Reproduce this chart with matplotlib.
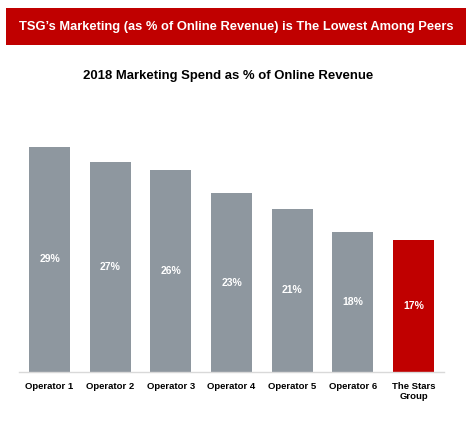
import matplotlib
matplotlib.use("Agg")
import matplotlib.pyplot as plt
from matplotlib import font_manager
from matplotlib.patches import Rectangle

categories = ["Operator 1", "Operator 2", "Operator 3", "Operator 4",
              "Operator 5", "Operator 6", "The Stars\nGroup"]
values = [29, 27, 26, 23, 21, 18, 17]
value_labels = ["29%", "27%", "26%", "23%", "21%", "18%", "17%"]
banner_title = "TSG\u2019s Marketing (as % of Online Revenue) is The Lowest Among Peers"
chart_title = "2018 Marketing Spend as % of Online Revenue"

names = {f.name for f in font_manager.fontManager.ttflist}
if "Liberation Sans Narrow" in names:
    FONT = "Liberation Sans Narrow"
    narrow = True
else:
    FONT = "Liberation Sans"
    narrow = False
plt.rcParams['font.family'] = [FONT, "DejaVu Sans"]

W, H = 475, 423
fig = plt.figure(figsize=(W / 100, H / 100), dpi=100)
fig.patch.set_facecolor("white")

# Banner
fig.patches.append(Rectangle((6 / W, 1 - 45 / H), 460 / W, 37 / H,
                             transform=fig.transFigure, facecolor="#C00000",
                             edgecolor="none"))
fig.text(236 / W, 1 - 27 / H, banner_title, color="white", fontweight="bold",
         fontsize=12.3 if narrow else 9.3, ha="center", va="center")
fig.text(228.5 / W, 1 - 76 / H, chart_title, color="black", fontweight="bold",
         fontsize=12 if narrow else 9.45, ha="center", va="center")

ax = fig.add_axes([19.2 / W, 51 / H, 424.7 / W, 233 / H])
gray = "#8E979F"
red = "#C00000"
colors = [gray] * 6 + [red]
x = list(range(len(categories)))
bars = ax.bar(x, values, width=0.676, color=colors)
for xi, v, lab in zip(x, values, value_labels):
    ax.text(xi, v / 2, lab, color="white", fontweight="bold",
            fontsize=9 if narrow else 7.5, ha="center", va="center")

ax.set_xlim(-0.5, 6.5)
ax.set_ylim(0, 30)
ax.set_xticks(x)
ax.set_xticklabels(categories, fontweight="bold", fontsize=9 if narrow else 6.8,
                   linespacing=1.25)
ax.tick_params(axis="x", length=0, pad=7)
ax.set_yticks([])
for s in ["top", "left", "right"]:
    ax.spines[s].set_visible(False)
ax.spines["bottom"].set_color("#D9D9D9")
ax.spines["bottom"].set_linewidth(1)

fig.savefig("out.png", dpi=100, facecolor="white")
